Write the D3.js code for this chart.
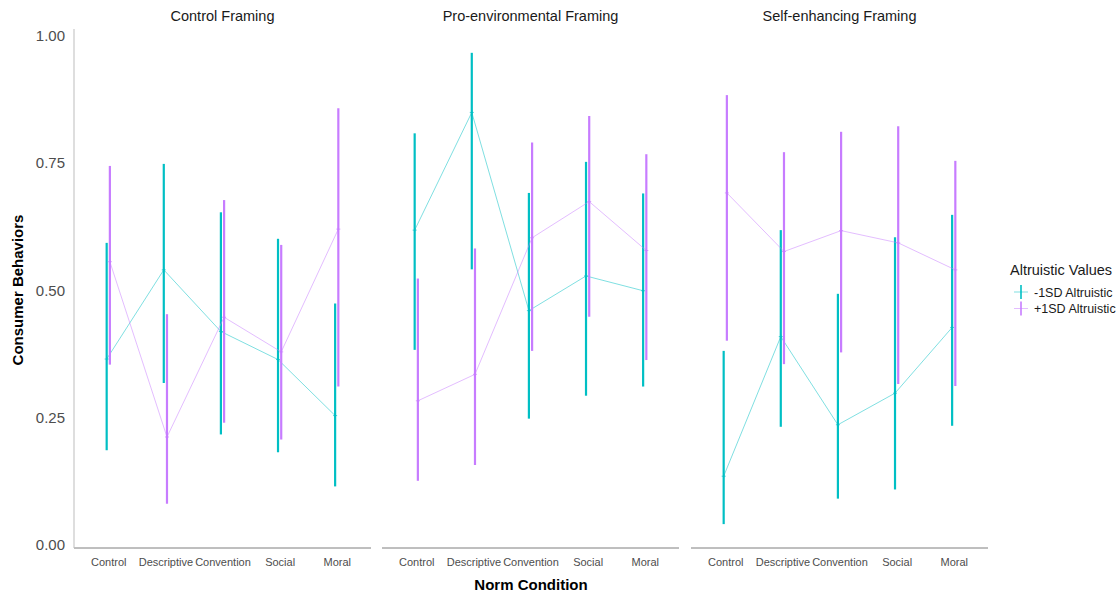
<!DOCTYPE html>
<html><head><meta charset="utf-8">
<script src="https://cdn.jsdelivr.net/npm/d3@7"></script>
<style>body{margin:0;background:#fff;} text{font-family:"Liberation Sans",Arial,sans-serif;}</style>
</head><body><svg id="c" width="1120" height="597"></svg>
<script>
const panels = ["Control Framing","Pro-environmental Framing","Self-enhancing Framing"];
const categories = ["Control","Descriptive","Convention","Social","Moral"];
const groups = ["-1SD Altruistic","+1SD Altruistic"];
const yTicks = [0,0.25,0.5,0.75,1.0];
// mean, lower, upper per panel per category
const lowMean = [[0.365,0.540,0.419,0.364,0.254],[0.618,0.849,0.460,0.528,0.499],[0.135,0.409,0.236,0.298,0.427]];
const lowLo   = [[0.186,0.318,0.217,0.182,0.115],[0.383,0.541,0.248,0.293,0.311],[0.041,0.232,0.091,0.109,0.234]];
const lowHi   = [[0.593,0.748,0.653,0.601,0.474],[0.808,0.966,0.691,0.752,0.690],[0.381,0.618,0.493,0.604,0.648]];
const highMean= [[0.556,0.212,0.447,0.379,0.620],[0.283,0.335,0.603,0.674,0.578],[0.691,0.576,0.617,0.593,0.540]];
const highLo  = [[0.354,0.081,0.240,0.207,0.311],[0.126,0.157,0.381,0.448,0.363],[0.401,0.355,0.378,0.316,0.312]];
const highHi  = [[0.744,0.453,0.677,0.589,0.857],[0.523,0.582,0.790,0.842,0.767],[0.883,0.771,0.811,0.822,0.754]];
const colors = ["#00BFC4","#C77CFF"];

const svg = d3.select("#c");
const panelTop = 29, panelBottom = 548;
const y = d3.scaleLinear().domain([0,1]).range([545,35.5]);
const panelX = [74, 382, 691], panelW = 297;
const series = [[lowMean,lowLo,lowHi],[highMean,highLo,highHi]];
const dodge = [-1.6, 1.6];

panels.forEach((p,pi)=>{
  const x = d3.scalePoint().domain(categories).range([panelX[pi], panelX[pi]+panelW]).padding(0.6);
  const g = svg.append("g");
  g.append("text").attr("x", panelX[pi]+panelW/2).attr("y", 21).attr("text-anchor","middle")
    .attr("font-size",14.5).attr("fill","#1a1a1a").text(p);
  const ax = g.append("g").attr("transform",`translate(0,${panelBottom})`)
    .call(d3.axisBottom(x).tickSize(0).tickPadding(10));
  ax.select(".domain").attr("stroke","#7f7f7f").attr("d",`M${panelX[pi]},0H${panelX[pi]+panelW}`);
  ax.selectAll("text").attr("font-size",11).attr("fill","#4d4d4d").attr("font-family","Liberation Sans, Arial, sans-serif");
  series.forEach((s,si)=>{
    const [m,lo,hi] = s;
    const col = colors[si];
    const pts = categories.map((c,i)=>({x:x(c)+dodge[si], m:m[pi][i], lo:lo[pi][i], hi:hi[pi][i]}));
    g.append("path").datum(pts).attr("fill","none").attr("stroke",col).attr("stroke-opacity",0.5).attr("stroke-width",1)
      .attr("d", d3.line().x(d=>d.x).y(d=>y(d.m)));
    g.selectAll(null).data(pts).enter().append("line")
      .attr("x1",d=>d.x).attr("x2",d=>d.x).attr("y1",d=>y(d.lo)).attr("y2",d=>y(d.hi))
      .attr("stroke",col).attr("stroke-width",2.2);
    g.selectAll(null).data(pts).enter().append("path")
      .attr("d",d=>`M${d.x-2},${y(d.m)}H${d.x+2}M${d.x},${y(d.m)-2}V${y(d.m)+2}`)
      .attr("stroke",col).attr("stroke-opacity",0.7).attr("stroke-width",1);
  });
});

const ya = svg.append("g").attr("transform","translate(74,0)")
  .call(d3.axisLeft(y).tickValues(yTicks).tickFormat(d3.format(".2f")).tickSize(0).tickPadding(9));
ya.select(".domain").attr("stroke","#bdbdbd").attr("d",`M0,${panelTop}V${panelBottom}`);
ya.selectAll("text").attr("font-size",15).attr("fill","#4d4d4d").attr("font-family","Liberation Sans, Arial, sans-serif");

svg.append("text").attr("transform","translate(23,290) rotate(-90)").attr("text-anchor","middle")
  .attr("font-size",15).attr("font-weight","bold").attr("fill","#000").text("Consumer Behaviors");
svg.append("text").attr("x",531).attr("y",590).attr("text-anchor","middle")
  .attr("font-size",15).attr("font-weight","bold").attr("fill","#000").text("Norm Condition");

const lg = svg.append("g").attr("transform","translate(1010,0)");
lg.append("text").attr("x",0).attr("y",275).attr("font-size",14.5).attr("fill","#1a1a1a").text("Altruistic Values");
groups.forEach((gname,i)=>{
  const cy = 292 + i*16.5;
  lg.append("line").attr("x1",4).attr("x2",18).attr("y1",cy).attr("y2",cy).attr("stroke",colors[i]).attr("stroke-opacity",0.5).attr("stroke-width",1);
  lg.append("line").attr("x1",11).attr("x2",11).attr("y1",cy-7).attr("y2",cy+7).attr("stroke",colors[i]).attr("stroke-width",1.6);
  lg.append("text").attr("x",24).attr("y",cy+4.5).attr("font-size",12.5).attr("fill","#1a1a1a").text(gname);
});
</script></body></html>
